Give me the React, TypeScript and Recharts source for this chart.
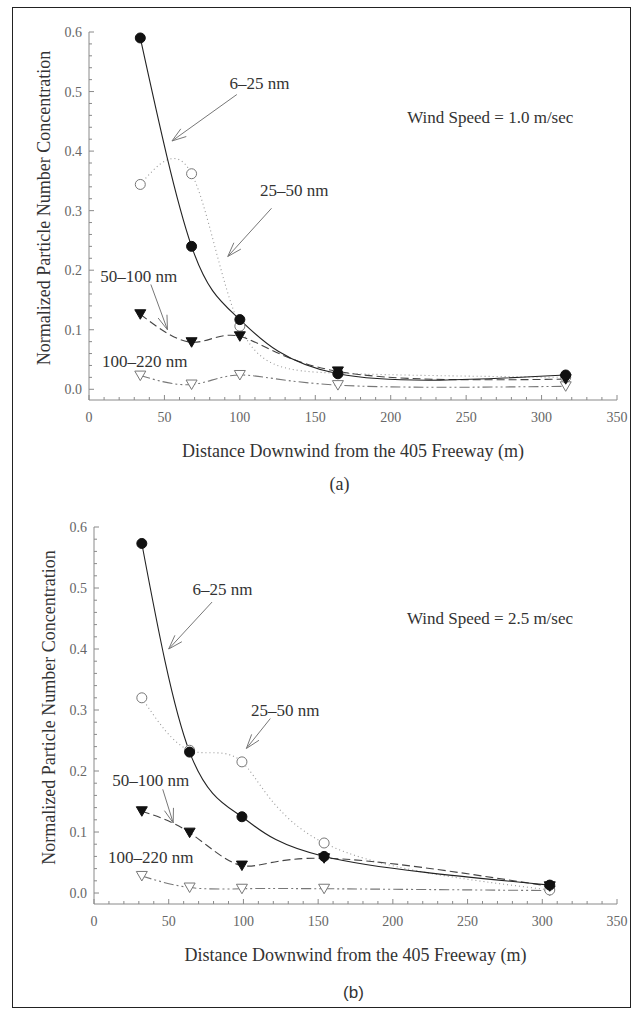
import React from 'react'
import { LineChart, Line, XAxis, YAxis, ReferenceLine, ReferenceDot } from 'recharts'

// panel (a): wind speed 1.0 m/sec
const distanceA = [34, 68, 100, 165, 316]
const a6to25 = [0.59, 0.24, 0.117, 0.026, 0.024]
const a25to50 = [0.344, 0.362, 0.106, 0.027, 0.02]
const a50to100 = [0.126, 0.079, 0.089, 0.03, 0.017]
const a100to220 = [0.023, 0.008, 0.024, 0.007, 0.005]

// panel (b): wind speed 2.5 m/sec
const distanceB = [32, 64, 99, 154, 305]
const b6to25 = [0.573, 0.231, 0.125, 0.06, 0.013]
const b25to50 = [0.32, 0.234, 0.215, 0.082, 0.005]
const b50to100 = [0.134, 0.099, 0.045, 0.057, 0.011]
const b100to220 = [0.028, 0.009, 0.007, 0.007, 0.004]

const xMajorTicks = [0, 50, 100, 150, 200, 250, 300, 350]
const yMajorTicks = [0, 0.1, 0.2, 0.3, 0.4, 0.5, 0.6]
const xTitle = 'Distance Downwind from the 405 Freeway (m)'
const yTitle = 'Normalized Particle Number Concentration'

const xAllTicks: number[] = []
for (let v = 0; v <= 350; v += 10) xAllTicks.push(v)
const yAllTicks: number[] = []
for (let i = 0; i <= 30; i++) yAllTicks.push(Math.round(i * 2) / 100)

const SERIF = '"Liberation Serif", "Times New Roman", serif'
const FRAME = '#8a8a8a'

type Note = { x: number; y: number; text: string }
type Arrow = { from: [number, number]; to: [number, number] }

const notesA: Note[] = [
    { x: 113, y: 0.514, text: '6–25 nm' },
    { x: 136, y: 0.334, text: '25–50 nm' },
    { x: 33, y: 0.19, text: '50–100 nm' },
    { x: 37, y: 0.047, text: '100–220 nm' },
    { x: 266, y: 0.457, text: 'Wind Speed = 1.0 m/sec' },
]
const arrowsA: Arrow[] = [
    { from: [98, 0.495], to: [55, 0.417] },
    { from: [121, 0.304], to: [92, 0.223] },
    { from: [41, 0.176], to: [52, 0.1] },
]

const notesB: Note[] = [
    { x: 86, y: 0.499, text: '6–25 nm' },
    { x: 128, y: 0.3, text: '25–50 nm' },
    { x: 38, y: 0.185, text: '50–100 nm' },
    { x: 38, y: 0.059, text: '100–220 nm' },
    { x: 265, y: 0.451, text: 'Wind Speed = 2.5 m/sec' },
]
const arrowsB: Arrow[] = [
    { from: [79, 0.477], to: [50, 0.4] },
    { from: [118, 0.286], to: [102, 0.237] },
    { from: [46, 0.17], to: [53, 0.115] },
]

const toPoints = (xs: number[], ys: number[]) => xs.map((x, i) => ({ x, y: ys[i] }))

const isMajorY = (v: number) => yMajorTicks.some((m) => Math.abs(m - v) < 1e-6)

function BottomTick(props: any) {
    const { x, y, payload } = props
    const major = xMajorTicks.includes(payload.value)
    return (
        <g>
            <line x1={x} y1={y} x2={x} y2={y - (major ? 5 : 3)} stroke={FRAME} />
            {major && (
                <text x={x} y={y + 22} textAnchor="middle" fontSize={14} fontFamily={SERIF} fill="#666">
                    {payload.value}
                </text>
            )}
        </g>
    )
}

function TopTick(props: any) {
    const { x, y, payload } = props
    const major = xMajorTicks.includes(payload.value)
    return <line x1={x} y1={y} x2={x} y2={y + (major ? 5 : 3)} stroke={FRAME} />
}

function LeftTick(props: any) {
    const { x, y, payload } = props
    const major = isMajorY(payload.value)
    return (
        <g>
            <line x1={x} y1={y} x2={x + (major ? 5 : 3)} y2={y} stroke={FRAME} />
            {major && (
                <text x={x - 7} y={y + 5} textAnchor="end" fontSize={14} fontFamily={SERIF} fill="#666">
                    {payload.value.toFixed(1)}
                </text>
            )}
        </g>
    )
}

function RightTick(props: any) {
    const { x, y, payload } = props
    const major = isMajorY(payload.value)
    return <line x1={x} y1={y} x2={x - (major ? 5 : 3)} y2={y} stroke={FRAME} />
}

function arrowShape(props: any) {
    const { x1, y1, x2, y2 } = props
    const ang = Math.atan2(y2 - y1, x2 - x1)
    const len = 15
    const spread = 0.32
    const b1x = x2 - len * Math.cos(ang - spread)
    const b1y = y2 - len * Math.sin(ang - spread)
    const b2x = x2 - len * Math.cos(ang + spread)
    const b2y = y2 - len * Math.sin(ang + spread)
    return (
        <g stroke="#777" strokeWidth={1} fill="none">
            <line x1={x1} y1={y1} x2={x2} y2={y2} />
            <line x1={x2} y1={y2} x2={b1x} y2={b1y} />
            <line x1={x2} y1={y2} x2={b2x} y2={b2y} />
        </g>
    )
}

const filledCircle = (p: any) => <circle key={p.key ?? p.index} cx={p.cx} cy={p.cy} r={5} fill="#111" stroke="#111" />
const openCircle = (p: any) => <circle key={p.key ?? p.index} cx={p.cx} cy={p.cy} r={5} fill="#fff" stroke="#777" />
const filledTriangle = (p: any) => (
    <path key={p.key ?? p.index} d={`M${p.cx - 5.5},${p.cy - 4.5}L${p.cx + 5.5},${p.cy - 4.5}L${p.cx},${p.cy + 5}Z`} fill="#111" stroke="#111" />
)
const openTriangle = (p: any) => (
    <path key={p.key ?? p.index} d={`M${p.cx - 5.5},${p.cy - 4.5}L${p.cx + 5.5},${p.cy - 4.5}L${p.cx},${p.cy + 5}Z`} fill="#fff" stroke="#777" />
)

function YTitle(props: any) {
    const vb = props.viewBox
    const cx = vb.x + 17
    const cy = vb.y + vb.height / 2 - 8
    return (
        <text x={cx} y={cy} transform={`rotate(-90 ${cx} ${cy})`} textAnchor="middle" dominantBaseline="middle"
            fontSize={18} fontFamily={SERIF} fill="#333">
            {yTitle}
        </text>
    )
}

interface PanelProps {
    xs: number[]
    s6: number[]
    s25: number[]
    s50: number[]
    s100: number[]
    notes: Note[]
    arrows: Arrow[]
    height: number
    marginLeft: number
    marginBottom: number
}

function Panel({ xs, s6, s25, s50, s100, notes, arrows, height, marginLeft, marginBottom }: PanelProps) {
    return (
        <LineChart width={643} height={height} margin={{ top: 32, right: 26, bottom: marginBottom, left: marginLeft }}>
            <XAxis dataKey="x" type="number" domain={[0, 350]} ticks={xAllTicks} interval={0}
                tick={<BottomTick />} tickLine={false} tickSize={0} tickMargin={0} height={60}
                axisLine={{ stroke: FRAME }} allowDataOverflow
                label={{ value: xTitle, position: 'insideBottom', offset: 3, fontSize: 18, fontFamily: SERIF, fill: '#333' }} />
            <XAxis xAxisId="top" orientation="top" type="number" domain={[0, 350]} ticks={xAllTicks} interval={0}
                tick={<TopTick />} tickLine={false} tickSize={0} tickMargin={0} height={0}
                axisLine={{ stroke: FRAME }} allowDataOverflow />
            <YAxis type="number" domain={[-0.018, 0.6]} ticks={yAllTicks} interval={0}
                tick={<LeftTick />} tickLine={false} tickSize={0} tickMargin={0} width={60}
                axisLine={{ stroke: FRAME }} allowDataOverflow label={<YTitle />} />
            <YAxis yAxisId="right" orientation="right" type="number" domain={[-0.018, 0.6]} ticks={yAllTicks} interval={0}
                tick={<RightTick />} tickLine={false} tickSize={0} tickMargin={0} width={0}
                axisLine={{ stroke: FRAME }} allowDataOverflow />

            <Line data={toPoints(xs, s100)} dataKey="y" type="natural" stroke="#777" strokeWidth={1.1}
                strokeDasharray="10 3 2 3 2 3" dot={openTriangle} isAnimationActive={false} />
            <Line data={toPoints(xs, s25)} dataKey="y" type="natural" stroke="#999" strokeWidth={1.1}
                strokeDasharray="1 3" dot={openCircle} isAnimationActive={false} />
            <Line data={toPoints(xs, s50)} dataKey="y" type="natural" stroke="#444" strokeWidth={1.1}
                strokeDasharray="8 4" dot={filledTriangle} isAnimationActive={false} />
            <Line data={toPoints(xs, s6)} dataKey="y" type="natural" stroke="#222" strokeWidth={1.1}
                dot={filledCircle} isAnimationActive={false} />

            {arrows.map((a, i) => (
                <ReferenceLine key={`arrow-${i}`} segment={[{ x: a.from[0], y: a.from[1] }, { x: a.to[0], y: a.to[1] }]}
                    shape={arrowShape} ifOverflow="visible" />
            ))}
            {notes.map((n, i) => (
                <ReferenceDot key={`note-${i}`} x={n.x} y={n.y} r={0} fill="none" stroke="none" ifOverflow="visible"
                    label={{ value: n.text, position: 'center', fontSize: 17, fontFamily: SERIF, fill: '#333' }} />
            ))}
        </LineChart>
    )
}

export default function App() {
    return (
        <div style={{ position: 'absolute', left: 0, top: 0, width: 643, height: 1015, background: '#fff' }}>
            <div style={{ position: 'absolute', left: 12, top: 7, width: 617, height: 999, border: '1.5px solid #222' }} />
            <div style={{ position: 'absolute', left: 0, top: 0 }}>
                <Panel xs={distanceA} s6={a6to25} s25={a25to50} s50={a50to100} s100={a100to220}
                    notes={notesA} arrows={arrowsA} height={500} marginLeft={29} marginBottom={40} />
            </div>
            <div style={{ position: 'absolute', left: 0, top: 474, width: 643, textAlign: 'center', fontFamily: SERIF, fontSize: 18, color: '#333', lineHeight: '20px' }}>
                <span style={{ position: 'relative', left: 18 }}>(a)</span>
            </div>
            <div style={{ position: 'absolute', left: 0, top: 495 }}>
                <Panel xs={distanceB} s6={b6to25} s25={b25to50} s50={b50to100} s100={b100to220}
                    notes={notesB} arrows={arrowsB} height={520} marginLeft={34} marginBottom={51} />
            </div>
            <div style={{ position: 'absolute', left: 0, top: 983, width: 643, textAlign: 'center', fontFamily: '"Liberation Sans", Arial, sans-serif', fontSize: 17, color: '#333', lineHeight: '20px' }}>
                <span style={{ position: 'relative', left: 32 }}>(b)</span>
            </div>
        </div>
    )
}
